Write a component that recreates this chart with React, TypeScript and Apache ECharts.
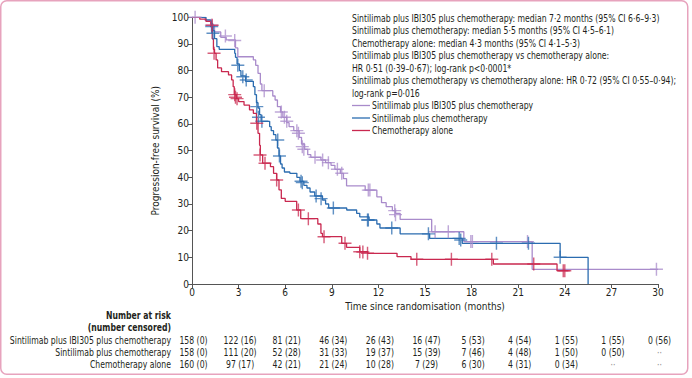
import React, { useEffect, useRef } from 'react';
import * as echarts from 'echarts';

const FONT = "'Liberation Sans Narrow', 'DejaVu Sans Condensed', 'Roboto', sans-serif";
const TXT = '#231f20';
const SX = 0.86;

const PURPLE = '#a98bcb';
const BLUE = '#2b6cb0';
const RED = '#c9284f';

const seriesNames = [
  'Sintilimab plus IBI305 plus chemotherapy',
  'Sintilimab plus chemotherapy',
  'Chemotherapy alone',
];
const seriesColors = [PURPLE, BLUE, RED];

// Kaplan-Meier steps: [month, survival %] (value becomes s at time t)
const tripleSteps: [number, number][] = [
  [0, 100], [0.85, 98.8], [1.2, 97], [1.45, 94.5], [1.85, 92.5], [2.2, 91.5], [2.8, 88.5], [2.95, 85.2],
  [3.95, 84], [4.1, 82], [4.25, 79], [4.4, 75], [4.5, 72.5], [5.2, 70.5], [5.35, 69], [5.5, 66.5],
  [5.7, 64.5], [5.85, 62.5], [6.1, 60.5], [6.25, 59], [6.55, 57.5], [6.9, 55], [7.05, 52.5], [7.25, 50.5],
  [7.45, 48.5], [7.65, 47.5], [8.3, 46.5], [8.6, 45.5], [8.95, 44.5], [9.2, 43], [9.55, 41.5], [9.75, 39.5],
  [9.95, 36.8], [11.15, 35.2], [11.9, 32.7], [12.2, 30.5], [12.5, 29], [12.9, 27.5], [13.1, 26.5],
  [13.4, 24.2], [15.43, 19.6], [17.5, 15.9], [21.9, 5.5], [30, 5.5],
];
const tripleCensored: [number, number][] = [
  [0.2, 100], [1.25, 97], [2.15, 93], [2.75, 91.3], [4.65, 72.5], [5.75, 64.5], [5.95, 62.5], [6.1, 61],
  [6.75, 57.5], [6.85, 56.5], [7.1, 51.5], [7.2, 50.5], [7.92, 47.5], [8.41, 46.5], [8.78, 45.5],
  [9.36, 43], [9.64, 41.5], [11.35, 35.2], [11.45, 35.2], [13.05, 27.5], [13.1, 26], [15.65, 19.6],
  [16.5, 19.6], [17.95, 15.9], [18.05, 15.9], [21.6, 15.9], [29.9, 5.5],
];

const sintiSteps: [number, number][] = [
  [0, 100], [0.9, 99], [1.2, 97.5], [1.35, 95], [1.45, 92], [1.6, 89], [1.75, 88], [2.75, 86.5],
  [2.8, 85], [2.9, 82.5], [3.05, 80], [3.15, 78], [3.45, 76], [3.95, 74], [4.05, 71], [4.15, 68],
  [4.25, 66], [4.35, 63.5], [4.45, 61], [5.0, 59], [5.1, 57.5], [5.25, 56], [5.4, 54], [5.5, 51],
  [5.6, 48], [5.7, 45], [5.8, 43.5], [5.95, 42], [6.3, 41.5], [6.75, 40], [6.95, 38.5], [7.2, 37],
  [7.4, 36], [7.6, 34.5], [7.9, 33], [8.4, 31.5], [8.6, 30], [8.8, 28.5], [9.96, 27.75], [10.6, 26.5],
  [10.8, 25.2], [11.4, 24], [11.9, 22.5], [12.1, 21], [13.4, 18.8], [15.3, 17.1], [17.4, 15.25],
  [23.7, 10], [25.5, 0],
];
const sintiCensored: [number, number][] = [
  [1.27, 96.5], [1.35, 94], [2.95, 82], [3.27, 77.7], [3.49, 76.5], [4.17, 66.5], [4.28, 62.5],
  [4.5, 61], [5.52, 54], [5.63, 48], [7.02, 38.5], [7.1, 38], [7.99, 33], [8.31, 32], [9.1, 28.5],
  [11.3, 24], [11.35, 24], [12.86, 21], [15.22, 18.8], [17.2, 17.1], [17.3, 16.5], [19.6, 15.25],
  [21.66, 15.25], [23.7, 10],
];

const chemoSteps: [number, number][] = [
  [0, 100], [0.5, 99.3], [0.9, 98.5], [1.2, 96.5], [1.3, 92], [1.38, 88], [1.45, 86.5], [1.55, 84],
  [1.65, 81], [1.9, 79.6], [2.35, 78.4], [2.55, 76.5], [2.65, 74], [2.72, 71], [2.85, 69.5],
  [3.0, 68.4], [3.35, 67.1], [3.7, 65.3], [3.95, 64], [4.15, 60.3], [4.25, 56.5], [4.35, 52],
  [4.4, 48.4], [4.55, 45.3], [5.05, 44], [5.25, 41.5], [5.45, 39], [5.6, 35.3], [5.75, 32.1],
  [6.0, 31], [6.74, 27.75], [7.0, 24.5], [8.1, 22.5], [8.3, 19], [8.4, 17.75], [9.64, 15.25],
  [9.95, 13.75], [10.8, 12.1], [11.3, 11.5], [13.2, 10.25], [14.1, 9.25], [19.4, 7.5], [23.5, 5],
  [24.2, 5],
];
const chemoCensored: [number, number][] = [
  [1.3, 97], [1.42, 86.5], [2.75, 71], [2.8, 70], [2.9, 69.5], [4.17, 60.3], [4.38, 48.4],
  [4.7, 45.3], [5.45, 39], [6.85, 27.75], [7.49, 24.5], [8.5, 17.75], [9.85, 15.25], [10.8, 12.1],
  [11.0, 12], [11.3, 11.5], [14.47, 9.25], [16.7, 9.25], [19.3, 9.25], [22.0, 7.5], [23.9, 5],
  [24.0, 5],
];

const riskTimes = [0, 3, 6, 9, 12, 15, 18, 21, 24, 27, 30];
const riskTriple = ['158 (0)', '122 (16)', '81 (21)', '46 (34)', '26 (43)', '16 (47)', '5 (53)', '4 (54)', '1 (55)', '1 (55)', '0 (56)'];
const riskSinti = ['158 (0)', '111 (20)', '52 (28)', '31 (33)', '19 (37)', '15 (39)', '7 (46)', '4 (48)', '1 (50)', '0 (50)', '··'];
const riskChemo = ['160 (0)', '97 (17)', '42 (21)', '21 (24)', '10 (28)', '7 (29)', '6 (30)', '4 (31)', '0 (34)', '··', '··'];
const riskRows = [riskTriple, riskSinti, riskChemo];

const infoLines = [
  'Sintilimab plus IBI305 plus chemotherapy: median 7·2 months (95% CI 6·6–9·3)',
  'Sintilimab plus chemotherapy: median 5·5 months (95% CI 4·5–6·1)',
  'Chemotherapy alone: median 4·3 months (95% CI 4·1–5·3)',
  'Sintilimab plus IBI305 plus chemotherapy vs chemotherapy alone:',
  'HR 0·51 (0·39–0·67); log-rank p<0·0001*',
  'Sintilimab plus chemotherapy vs chemotherapy alone: HR 0·72 (95% CI 0·55–0·94);',
  'log-rank p=0·016',
];

const PLUS = 'path://M-0.11,-1H0.11V-0.11H1V0.11H0.11V1H-0.11V0.11H-1V-0.11H-0.11Z';

function txt(text: string, x: number, y: number, extra: any = {}) {
  const { align, weight, fill } = extra;
  return {
    type: 'text',
    x,
    y,
    scaleX: SX,
    silent: true,
    style: {
      text,
      fontSize: 10,
      fontFamily: FONT,
      fontWeight: weight || 'normal',
      fill: fill || TXT,
      textAlign: align || 'left',
      textVerticalAlign: 'middle',
    },
  };
}

export default function App() {
  const ref = useRef<HTMLDivElement>(null);
  useEffect(() => {
    document.body.style.margin = '0';
    if (!ref.current) return;
    const chart = echarts.init(ref.current, undefined, { renderer: 'svg' });
    const lineSeries = (name: string, data: [number, number][], color: string) => ({
      name,
      type: 'line',
      step: 'end',
      data,
      showSymbol: false,
      symbol: 'none',
      color,
      lineStyle: { color, width: 1.3 },
      z: 3,
    });
    const censSeries = (name: string, data: [number, number][], color: string) => ({
      name: name + ' censored',
      type: 'scatter',
      data,
      symbol: PLUS,
      symbolSize: 13,
      itemStyle: { color, opacity: 0.75 },
      z: 4,
    });
    chart.setOption({
      animation: false,
      grid: { left: 192, right: 34, top: 17.3, bottom: 94, containLabel: false },
      xAxis: {
        type: 'value',
        min: 0,
        max: 30,
        interval: 3,
        name: 'Time since randomisation (months)',
        nameLocation: 'middle',
        nameGap: 16,
        nameTextStyle: { fontSize: 10, fontFamily: FONT, color: TXT },
        axisLine: { show: true, lineStyle: { color: '#555', width: 1 } },
        axisTick: { show: true, length: 4, lineStyle: { color: '#555' } },
        axisLabel: { fontSize: 10, fontFamily: FONT, color: TXT, margin: 3 },
        splitLine: { show: false },
      },
      yAxis: {
        type: 'value',
        min: 0,
        max: 100,
        interval: 10,
        name: 'Progression-free survival (%)',
        nameLocation: 'middle',
        nameGap: 22,
        nameTextStyle: { fontSize: 10, fontFamily: FONT, color: TXT },
        axisLine: { show: true, lineStyle: { color: '#555', width: 1 } },
        axisTick: { show: true, length: 4, lineStyle: { color: '#555' } },
        axisLabel: { fontSize: 10, fontFamily: FONT, color: TXT, margin: 3 },
        splitLine: { show: false },
      },
      series: [
        lineSeries(seriesNames[0], tripleSteps, PURPLE),
        lineSeries(seriesNames[1], sintiSteps, BLUE),
        lineSeries(seriesNames[2], chemoSteps, RED),
        censSeries(seriesNames[0], tripleCensored, PURPLE),
        censSeries(seriesNames[1], sintiCensored, BLUE),
        censSeries(seriesNames[2], chemoCensored, RED),
      ],
    });

    const LINE = 12.5;
    const infoGraphics = infoLines.map((t, i) => txt(t, 352, 18 + i * LINE));
    const legendGraphics: any[] = [];
    seriesNames.forEach((n, i) => {
      const y = 18 + (infoLines.length + i) * LINE;
      legendGraphics.push({
        type: 'line',
        silent: true,
        shape: { x1: 352, y1: y, x2: 370, y2: y },
        style: { stroke: seriesColors[i], lineWidth: 1.3 },
      });
      legendGraphics.push(txt(n, 372, y));
    });
    const rowYs = [340, 352, 364];
    const rowLabels = [
      txt('Number at risk', 171, 315, { align: 'right', weight: 'bold' }),
      txt('(number censored)', 171, 327, { align: 'right', weight: 'bold' }),
      ...seriesNames.map((n, i) => txt(n, 171, rowYs[i], { align: 'right' })),
    ];
    const riskGraphics: any[] = [];
    riskRows.forEach((row, r) => {
      row.forEach((v, i) => {
        const px = chart.convertToPixel({ xAxisIndex: 0 }, riskTimes[i]) as number;
        const dots = v === '··';
        riskGraphics.push(txt(v, px + 1.5, rowYs[r], { align: 'center', fill: dots ? '#888' : TXT }));
      });
    });

    chart.setOption({
      graphic: [
        {
          type: 'rect',
          silent: true,
          shape: { x: 0.75, y: 0.75, width: 687, height: 373.5, r: 6 },
          style: { fill: 'none', stroke: '#e7a3bd', lineWidth: 1.5 },
        },
        ...infoGraphics,
        ...legendGraphics,
        ...rowLabels,
        ...riskGraphics,
      ],
    });
    return () => chart.dispose();
  }, []);
  return <div ref={ref} style={{ width: 692, height: 378, position: 'absolute', left: 0, top: 0 }} />;
}
